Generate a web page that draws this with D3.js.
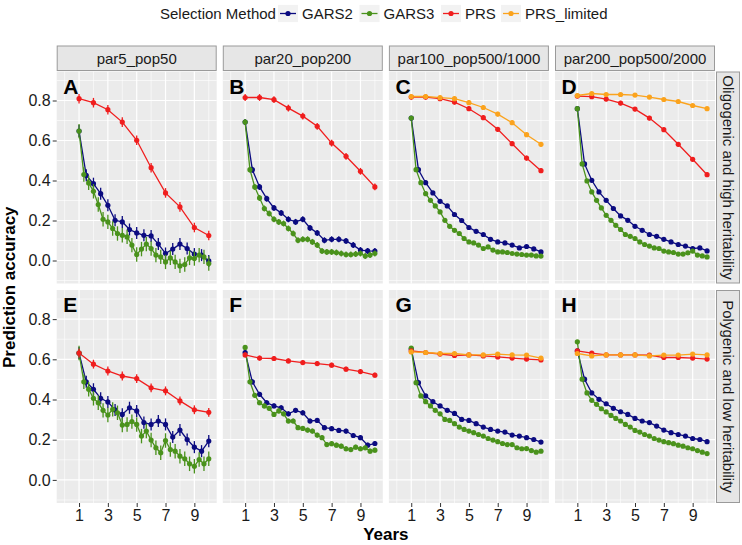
<!DOCTYPE html>
<html><head><meta charset="utf-8">
<script src="https://cdn.jsdelivr.net/npm/d3@7"></script>
<style>
body{margin:0;background:#fff}
text{font-family:"Liberation Sans",Arial,Helvetica,sans-serif}
</style>
</head><body>
<svg id="chart" width="742" height="545"></svg>
<script>
// ---------------- data ----------------
const methods = ["GARS2", "GARS3", "PRS", "PRS_limited"];
const methodColors = ["#0b0b80", "#4a921c", "#f01e1e", "#fba31d"];
const colLabels = ["par5_pop50", "par20_pop200", "par100_pop500/1000", "par200_pop500/2000"];
const rowLabels = ["Oligogenic and high heritability", "Polygenic and low heritability"];
const panelLetters = ["A", "B", "C", "D", "E", "F", "G", "H"];
const yTicks = [0, 0.2, 0.4, 0.6, 0.8];
const xTicks = [1, 3, 5, 7, 9];

const yearsPRS = [1, 2, 3, 4, 5, 6, 7, 8, 9, 10];
const yearsGARS2 = [1, 1.5, 2, 2.5, 3, 3.5, 4, 4.5, 5, 5.5, 6, 6.5, 7, 7.5, 8, 8.5, 9, 9.5, 10];
const yearsGARS3 = [1, 1.333, 1.667, 2, 2.333, 2.667, 3, 3.333, 3.667, 4, 4.333, 4.667, 5, 5.333,
  5.667, 6, 6.333, 6.667, 7, 7.333, 7.667, 8, 8.333, 8.667, 9, 9.333, 9.667, 10];

// PRS
const prsA = [0.809, 0.789, 0.754, 0.692, 0.601, 0.464, 0.338, 0.268, 0.165, 0.125];
const prsB = [0.815, 0.815, 0.804, 0.762, 0.722, 0.671, 0.587, 0.521, 0.446, 0.368];
const prsC = [0.817, 0.817, 0.809, 0.792, 0.759, 0.714, 0.656, 0.584, 0.512, 0.449];
const prsD = [0.822, 0.819, 0.807, 0.787, 0.757, 0.712, 0.654, 0.581, 0.506, 0.429];
const prsE = [0.631, 0.576, 0.542, 0.517, 0.504, 0.458, 0.443, 0.393, 0.349, 0.336];
const prsF = [0.622, 0.606, 0.604, 0.592, 0.584, 0.579, 0.571, 0.551, 0.539, 0.521];
const prsG = [0.642, 0.634, 0.626, 0.619, 0.622, 0.617, 0.612, 0.606, 0.601, 0.597];
const prsH = [0.642, 0.631, 0.622, 0.622, 0.622, 0.621, 0.609, 0.609, 0.606, 0.601];
// PRS_limited (only panels C, D, G, H)
const prsLimC = [0.820, 0.820, 0.814, 0.809, 0.789, 0.765, 0.732, 0.689, 0.629, 0.581];
const prsLimD = [0.825, 0.835, 0.830, 0.830, 0.827, 0.817, 0.805, 0.795, 0.775, 0.759];
const prsLimG = [0.637, 0.634, 0.629, 0.629, 0.622, 0.622, 0.626, 0.622, 0.621, 0.606];
const prsLimH = [0.629, 0.617, 0.622, 0.622, 0.622, 0.617, 0.621, 0.621, 0.626, 0.622];
// GARS2
const gars2A = [0.647, 0.426, 0.384, 0.334, 0.276, 0.201, 0.193, 0.155, 0.138, 0.126, 0.123, 0.082, 0.035, 0.057, 0.082, 0.060, 0.032, 0.027, -0.002];
const gars2B = [0.692, 0.454, 0.368, 0.309, 0.263, 0.238, 0.206, 0.193, 0.206, 0.163, 0.138, 0.101, 0.106, 0.106, 0.098, 0.077, 0.052, 0.048, 0.047];
const gars2C = [0.712, 0.454, 0.389, 0.338, 0.296, 0.273, 0.230, 0.200, 0.165, 0.146, 0.130, 0.106, 0.093, 0.088, 0.077, 0.063, 0.070, 0.058, 0.043];
const gars2D = [0.759, 0.483, 0.401, 0.343, 0.301, 0.260, 0.223, 0.201, 0.171, 0.151, 0.130, 0.121, 0.106, 0.093, 0.080, 0.072, 0.060, 0.063, 0.048];
const gars2E = [0.631, 0.488, 0.451, 0.406, 0.388, 0.348, 0.326, 0.359, 0.343, 0.285, 0.276, 0.293, 0.276, 0.213, 0.248, 0.201, 0.163, 0.143, 0.193];
const gars2F = [0.634, 0.488, 0.426, 0.384, 0.368, 0.359, 0.329, 0.346, 0.334, 0.293, 0.296, 0.260, 0.255, 0.246, 0.243, 0.221, 0.210, 0.173, 0.181];
const gars2G = [0.651, 0.484, 0.418, 0.389, 0.368, 0.346, 0.331, 0.301, 0.296, 0.280, 0.263, 0.251, 0.243, 0.238, 0.223, 0.218, 0.210, 0.201, 0.188];
const gars2H = [0.642, 0.501, 0.433, 0.401, 0.379, 0.356, 0.339, 0.326, 0.306, 0.293, 0.285, 0.268, 0.248, 0.235, 0.226, 0.218, 0.206, 0.201, 0.190];
// GARS3
const gars3A = [0.647, 0.430, 0.388, 0.346, 0.280, 0.206, 0.193, 0.160, 0.135, 0.126, 0.118, 0.077, 0.030, 0.057,
  0.082, 0.060, 0.027, 0.018, -0.007, 0.013, -0.007, -0.027, -0.020, 0.013, 0.010, 0.027, 0.018, -0.015];
const gars3B = [0.692, 0.454, 0.368, 0.313, 0.260, 0.235, 0.206, 0.193, 0.185, 0.160, 0.135, 0.101, 0.106, 0.106,
  0.093, 0.077, 0.047, 0.043, 0.043, 0.040, 0.035, 0.030, 0.030, 0.032, 0.035, 0.022, 0.027, 0.035];
const gars3C = [0.712, 0.454, 0.389, 0.334, 0.301, 0.273, 0.243, 0.201, 0.171, 0.151, 0.135, 0.110, 0.093, 0.088,
  0.077, 0.060, 0.068, 0.052, 0.043, 0.043, 0.040, 0.035, 0.032, 0.030, 0.027, 0.027, 0.023, 0.022];
const gars3D = [0.759, 0.483, 0.398, 0.343, 0.301, 0.263, 0.226, 0.201, 0.176, 0.155, 0.130, 0.121, 0.110, 0.093,
  0.080, 0.072, 0.063, 0.060, 0.047, 0.043, 0.040, 0.032, 0.032, 0.038, 0.047, 0.027, 0.023, 0.018];
const gars3E = [0.631, 0.488, 0.451, 0.406, 0.384, 0.346, 0.323, 0.351, 0.334, 0.273, 0.276, 0.290, 0.276, 0.218,
  0.243, 0.198, 0.160, 0.135, 0.196, 0.151, 0.143, 0.118, 0.105, 0.080, 0.068, 0.101, 0.080, 0.105];
const gars3F = [0.659, 0.488, 0.421, 0.384, 0.368, 0.356, 0.326, 0.343, 0.329, 0.293, 0.293, 0.260, 0.256, 0.248,
  0.243, 0.223, 0.210, 0.176, 0.180, 0.173, 0.168, 0.155, 0.151, 0.163, 0.155, 0.160, 0.143, 0.148];
const gars3G = [0.656, 0.484, 0.418, 0.389, 0.368, 0.346, 0.329, 0.301, 0.296, 0.280, 0.263, 0.251, 0.243, 0.235,
  0.226, 0.218, 0.206, 0.198, 0.190, 0.181, 0.176, 0.176, 0.160, 0.155, 0.156, 0.146, 0.138, 0.143];
const gars3H = [0.687, 0.501, 0.433, 0.396, 0.376, 0.354, 0.338, 0.321, 0.306, 0.293, 0.276, 0.263, 0.246, 0.238,
  0.226, 0.218, 0.206, 0.198, 0.190, 0.185, 0.180, 0.173, 0.168, 0.160, 0.155, 0.146, 0.138, 0.131];

// error bar half-widths per panel (A..H)
const errPRS = [0.024, 0.017, 0.012, 0.011, 0.022, 0.012, 0.006, 0.005];
const errPRSlim = [0, 0, 0.012, 0.008, 0, 0, 0.006, 0.005];
const errGARS2 = [0.030, 0.015, 0.007, 0.006, 0.030, 0.012, 0.006, 0.005];
const errGARS3 = [0.036, 0.015, 0.007, 0.006, 0.036, 0.012, 0.006, 0.005];

// ------------- assemble table -------------
const valuesByPanel = {
  A: [gars2A, gars3A, prsA, null], B: [gars2B, gars3B, prsB, null],
  C: [gars2C, gars3C, prsC, prsLimC], D: [gars2D, gars3D, prsD, prsLimD],
  E: [gars2E, gars3E, prsE, null], F: [gars2F, gars3F, prsF, null],
  G: [gars2G, gars3G, prsG, prsLimG], H: [gars2H, gars3H, prsH, prsLimH]
};
const xsByMethod = [yearsGARS2, yearsGARS3, yearsPRS, yearsPRS];
const errByMethod = [errGARS2, errGARS3, errPRS, errPRSlim];

// ------------- layout -------------
const svg = d3.select("#chart");
const W = 742, H = 545;
const panelW = 160, colStep = 166.1, left0 = 56.7;
const rowTops = [71.5, 290], rowHeights = [212, 213];
const stripTop = 46, stripH = 25.5;
const stripRightX = 716, stripRightW = 24;
const FONT = 15;

svg.append("rect").attr("width", W).attr("height", H).attr("fill", "#fff");

const xDomain = [-0.55, 10.55];
const yDomain = [-0.115, 0.945];
const xMinor = [0, 2, 4, 6, 8, 10];
const yMinor = [-0.1, 0.1, 0.3, 0.5, 0.7, 0.9];

const line = (x, y) => d3.line().x(d => x(d[0])).y(d => y(d[1]));

panelLetters.forEach((letter, pi) => {
  const row = Math.floor(pi / 4), col = pi % 4;
  const px = left0 + col * colStep, py = rowTops[row], ph = rowHeights[row];
  const x = d3.scaleLinear().domain(xDomain).range([px, px + panelW]);
  const y = d3.scaleLinear().domain(yDomain).range([py + ph, py]);
  const g = svg.append("g");

  g.append("rect").attr("x", px).attr("y", py).attr("width", panelW).attr("height", ph).attr("fill", "#EBEBEB");
  // minor grid
  g.selectAll(".mx").data(xMinor).join("line")
    .attr("x1", d => x(d)).attr("x2", d => x(d)).attr("y1", py).attr("y2", py + ph)
    .attr("stroke", "#fff").attr("stroke-width", 0.6);
  g.selectAll(".my").data(yMinor).join("line")
    .attr("y1", d => y(d)).attr("y2", d => y(d)).attr("x1", px).attr("x2", px + panelW)
    .attr("stroke", "#fff").attr("stroke-width", 0.6);
  // major grid
  g.selectAll(".Mx").data(xTicks).join("line")
    .attr("x1", d => x(d)).attr("x2", d => x(d)).attr("y1", py).attr("y2", py + ph)
    .attr("stroke", "#fff").attr("stroke-width", 1.2);
  g.selectAll(".My").data(yTicks).join("line")
    .attr("y1", d => y(d)).attr("y2", d => y(d)).attr("x1", px).attr("x2", px + panelW)
    .attr("stroke", "#fff").attr("stroke-width", 1.2);

  const series = valuesByPanel[letter];
  // lines
  series.forEach((vals, mi) => {
    if (!vals) return;
    const pts = vals.map((v, i) => [xsByMethod[mi][i], v]);
    g.append("path").attr("d", line(x, y)(pts)).attr("fill", "none")
      .attr("stroke", methodColors[mi]).attr("stroke-width", 1.3);
  });
  // error bars + points
  series.forEach((vals, mi) => {
    if (!vals) return;
    const e = errByMethod[mi][pi];
    const pts = vals.map((v, i) => [xsByMethod[mi][i], v]);
    g.selectAll(null).data(pts).join("line")
      .attr("x1", d => x(d[0])).attr("x2", d => x(d[0]))
      .attr("y1", d => y(d[1] - e)).attr("y2", d => y(d[1] + e))
      .attr("stroke", methodColors[mi]).attr("stroke-width", 1.3);
    g.selectAll(null).data(pts).join("circle")
      .attr("cx", d => x(d[0])).attr("cy", d => y(d[1])).attr("r", 2.6)
      .attr("fill", methodColors[mi]);
  });

  // panel letter
  g.append("text").attr("x", px + 6.5).attr("y", py + 22).text(letter)
    .attr("font-size", 21).attr("font-weight", "bold").attr("fill", "#000");

  // y axis on first column
  if (col === 0) {
    const ax = svg.append("g").attr("transform", `translate(${px},0)`)
      .call(d3.axisLeft(y).tickValues(yTicks).tickFormat(d3.format(".1f")).tickSize(4).tickPadding(2));
    ax.select(".domain").remove();
    ax.selectAll("line").attr("stroke", "#333");
    ax.selectAll("text").attr("font-size", FONT + 1).attr("fill", "#1a1a1a")
      .attr("font-family", '"Liberation Sans",Arial,sans-serif');
  }
  // x axis on bottom row
  if (row === 1) {
    const ax = svg.append("g").attr("transform", `translate(0,${py + ph})`)
      .call(d3.axisBottom(x).tickValues(xTicks).tickFormat(d3.format("d")).tickSize(4).tickPadding(3));
    ax.select(".domain").remove();
    ax.selectAll("line").attr("stroke", "#333");
    ax.selectAll("text").attr("font-size", FONT + 1).attr("fill", "#1a1a1a")
      .attr("font-family", '"Liberation Sans",Arial,sans-serif');
  }
  // top strips
  if (row === 0) {
    svg.append("rect").attr("x", px + 0.5).attr("y", stripTop).attr("width", panelW - 1).attr("height", stripH - 1)
      .attr("fill", "#E6E6E6").attr("stroke", "#9a9a9a").attr("stroke-width", 1);
    svg.append("text").attr("x", px + panelW / 2).attr("y", stripTop + stripH / 2)
      .attr("text-anchor", "middle").attr("dominant-baseline", "central")
      .attr("font-size", FONT).attr("fill", "#1a1a1a").text(colLabels[col]);
  }
  // right strips
  if (col === 3) {
    svg.append("rect").attr("x", stripRightX + 0.5).attr("y", py + 0.5).attr("width", stripRightW - 1).attr("height", ph - 1)
      .attr("fill", "#E6E6E6").attr("stroke", "#9a9a9a").attr("stroke-width", 1);
    const cx = stripRightX + stripRightW / 2, cy = py + ph / 2;
    svg.append("text").attr("transform", `translate(${cx},${cy}) rotate(90)`)
      .attr("text-anchor", "middle").attr("dominant-baseline", "central")
      .attr("font-size", FONT).attr("fill", "#1a1a1a").text(rowLabels[row]);
  }
});

// axis titles
svg.append("text").attr("transform", `translate(15,${(rowTops[0] + rowTops[1] + rowHeights[1]) / 2}) rotate(-90)`)
  .attr("text-anchor", "middle").attr("font-size", 17).attr("font-weight", "bold").attr("fill", "#000")
  .text("Prediction accuracy");
svg.append("text").attr("x", left0 + (3 * colStep + panelW) / 2).attr("y", 540)
  .attr("text-anchor", "middle").attr("font-size", 17).attr("font-weight", "bold").attr("fill", "#000")
  .text("Years");

// legend
const legY = 13.5;
svg.append("text").attr("x", 160).attr("y", legY).attr("dominant-baseline", "central")
  .attr("font-size", FONT).attr("fill", "#1a1a1a").text("Selection Method");
const keyX = [278, 359.5, 441, 501];
methods.forEach((m, i) => {
  const kx = keyX[i];
  svg.append("rect").attr("x", kx).attr("y", legY - 8.6).attr("width", 20).attr("height", 17.2).attr("fill", "#F2F2F2");
  svg.append("line").attr("x1", kx + 2).attr("x2", kx + 18).attr("y1", legY).attr("y2", legY)
    .attr("stroke", methodColors[i]).attr("stroke-width", 1.3);
  svg.append("circle").attr("cx", kx + 10).attr("cy", legY).attr("r", 2.6).attr("fill", methodColors[i]);
  svg.append("text").attr("x", kx + 24).attr("y", legY).attr("dominant-baseline", "central")
    .attr("font-size", FONT).attr("fill", "#1a1a1a").text(m);
});
</script>
</body></html>
